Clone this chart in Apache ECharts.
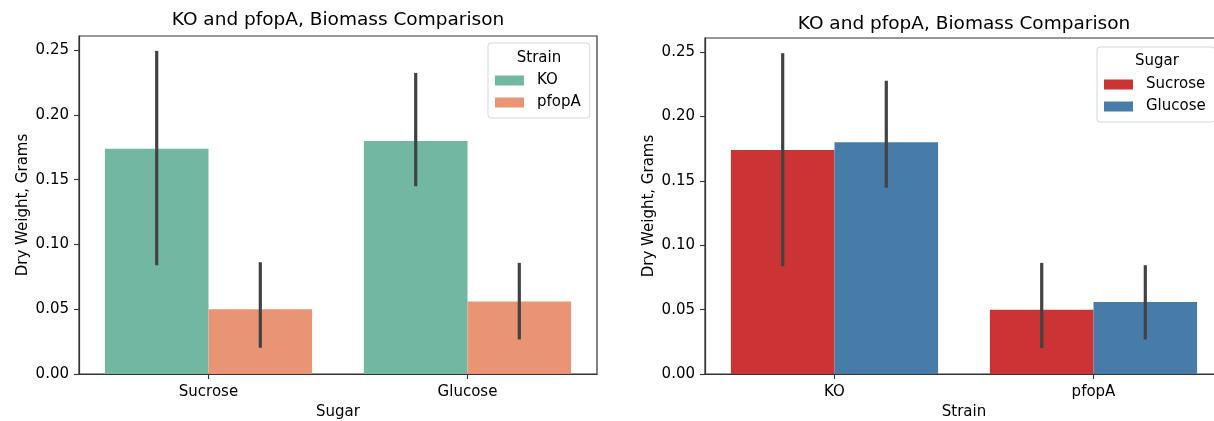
<!DOCTYPE html>
<html>
<head>
<meta charset="utf-8">
<script src="https://cdn.jsdelivr.net/npm/echarts@6/dist/echarts.min.js"></script>
<style>html,body{margin:0;padding:0;background:#fff;overflow:hidden}#c{width:1214px;height:421px}</style>
</head>
<body>
<div id="c"></div>
<script>
// ---- data ----
var chartTitle = 'KO and pfopA, Biomass Comparison';
var yTicks = [0, 0.05, 0.10, 0.15, 0.20, 0.25];
var yMax = 0.261;

// left panel: x = Sugar, hue = Strain
var leftCategories = ['Sucrose', 'Glucose'];
var leftHue = ['KO', 'pfopA'];
var leftKO = [0.174, 0.180];
var leftPfopA = [0.050, 0.056];
var leftKOLow = [0.0840, 0.1450];
var leftKOHigh = [0.2495, 0.2325];
var leftPfopALow = [0.0203, 0.0267];
var leftPfopAHigh = [0.0863, 0.0858];

// right panel: x = Strain, hue = Sugar
var rightCategories = ['KO', 'pfopA'];
var rightHue = ['Sucrose', 'Glucose'];
var rightSucrose = [0.174, 0.050];
var rightGlucose = [0.180, 0.056];
var rightSucroseLow = [0.0838, 0.0201];
var rightSucroseHigh = [0.2492, 0.0863];
var rightGlucoseLow = [0.1448, 0.0268];
var rightGlucoseHigh = [0.2278, 0.0845];

// ---- styling ----
var FONT = 'DejaVu Sans';
var TICK = 15;
var TITLE = 18.5;
var AX = '#333';
var colTeal = '#71b7a1', colSalmon = '#e99575', colRed = '#cb3335', colBlue = '#477ca8';

function ciData(lo, hi) {
  return lo.map(function (v, i) { return [i, v, hi[i]]; });
}
function errSeries(name, lo, hi, offsetFrac, gi) {
  return {
    type: 'custom', name: name + ' CI', xAxisIndex: gi, yAxisIndex: gi, z: 10,
    silent: true, legendHoverLink: false,
    data: ciData(lo, hi),
    renderItem: function (params, api) {
      var bw = api.size([1, 0])[0];
      var p1 = api.coord([api.value(0), api.value(1)]);
      var p2 = api.coord([api.value(0), api.value(2)]);
      var x = p1[0] + offsetFrac * bw;
      return { type: 'line', shape: { x1: x, y1: p1[1], x2: x, y2: p2[1] },
               style: { stroke: '#424242', lineWidth: 3.2 } };
    }
  };
}
function barSeries(name, data, color, gi) {
  return { type: 'bar', name: name, xAxisIndex: gi, yAxisIndex: gi, data: data,
           barWidth: '40%', barGap: '0%', itemStyle: { color: color }, z: 2 };
}
function xAxis(cats, name, gi) {
  return {
    type: 'category', gridIndex: gi, data: cats, name: name, nameLocation: 'middle', nameGap: 30,
    nameTextStyle: { fontFamily: FONT, fontSize: TICK, color: '#000' },
    axisLine: { show: true, lineStyle: { color: AX, width: 1.2 } },
    axisTick: { show: true, alignWithLabel: true, length: 5, lineStyle: { color: AX, width: 1.1 } },
    axisLabel: { fontFamily: FONT, fontSize: TICK, color: '#000', margin: 11 },
    splitLine: { show: false }
  };
}
function yAxis(gi) {
  return {
    type: 'value', gridIndex: gi, min: 0, max: yMax, interval: 0.05,
    name: 'Dry Weight, Grams', nameLocation: 'middle', nameGap: 48, nameRotate: 90,
    nameTextStyle: { fontFamily: FONT, fontSize: TICK, color: '#000' },
    axisLine: { show: true, lineStyle: { color: AX, width: 1.2 } },
    axisTick: { show: true, length: 5, lineStyle: { color: AX, width: 1.1 }, customValues: yTicks },
    axisLabel: { fontFamily: FONT, fontSize: TICK, color: '#000', margin: 10, customValues: yTicks,
                 formatter: function (v) { return v.toFixed(2); } },
    splitLine: { show: false }
  };
}
function legend(names, left, top) {
  return {
    data: names, orient: 'vertical', left: left, top: top,
    itemWidth: 29, itemHeight: 10, itemGap: 7,
    icon: 'rect', selectedMode: false,
    padding: [30, 9, 8, 7],
    borderColor: '#d6d6d6', borderWidth: 1, borderRadius: 3, backgroundColor: 'rgba(255,255,255,0.8)',
    textStyle: { fontFamily: FONT, fontSize: TICK, color: '#000', padding: [0, 0, 0, 8] }
  };
}

var chart = echarts.init(document.getElementById('c'), null, { renderer: 'canvas' });
chart.setOption({
  backgroundColor: '#fff',
  animation: false,
  title: [
    { text: chartTitle, left: 333, top: 6, textAlign: 'center',
      textStyle: { fontFamily: FONT, fontSize: TITLE, fontWeight: 'normal', color: '#000' } },
    { text: chartTitle, left: 959, top: 10, textAlign: 'center',
      textStyle: { fontFamily: FONT, fontSize: TITLE, fontWeight: 'normal', color: '#000' } },
    { text: 'Strain', left: 534, top: 46, textAlign: 'center', z: 20,
      textStyle: { fontFamily: FONT, fontSize: TICK, fontWeight: 'normal', color: '#000' } },
    { text: 'Sugar', left: 1152, top: 49, textAlign: 'center', z: 20,
      textStyle: { fontFamily: FONT, fontSize: TICK, fontWeight: 'normal', color: '#000' } }
  ],
  grid: [
    { left: 79, top: 36, width: 518, height: 338, outerBoundsMode: 'none', containLabel: false,
      show: true, borderColor: AX, borderWidth: 1.2, backgroundColor: 'transparent' },
    { left: 705, top: 38, width: 518, height: 336, outerBoundsMode: 'none', containLabel: false,
      show: true, borderColor: AX, borderWidth: 1.2, backgroundColor: 'transparent' }
  ],
  legend: [ legend(leftHue, 488, 43), legend(rightHue, 1097, 47) ],
  xAxis: [ xAxis(leftCategories, 'Sugar', 0), xAxis(rightCategories, 'Strain', 1) ],
  yAxis: [ yAxis(0), yAxis(1) ],
  series: [
    barSeries('KO', leftKO, colTeal, 0),
    barSeries('pfopA', leftPfopA, colSalmon, 0),
    errSeries('KO', leftKOLow, leftKOHigh, -0.2, 0),
    errSeries('pfopA', leftPfopALow, leftPfopAHigh, 0.2, 0),
    barSeries('Sucrose', rightSucrose, colRed, 1),
    barSeries('Glucose', rightGlucose, colBlue, 1),
    errSeries('Sucrose', rightSucroseLow, rightSucroseHigh, -0.2, 1),
    errSeries('Glucose', rightGlucoseLow, rightGlucoseHigh, 0.2, 1)
  ]
});
</script>
</body>
</html>
